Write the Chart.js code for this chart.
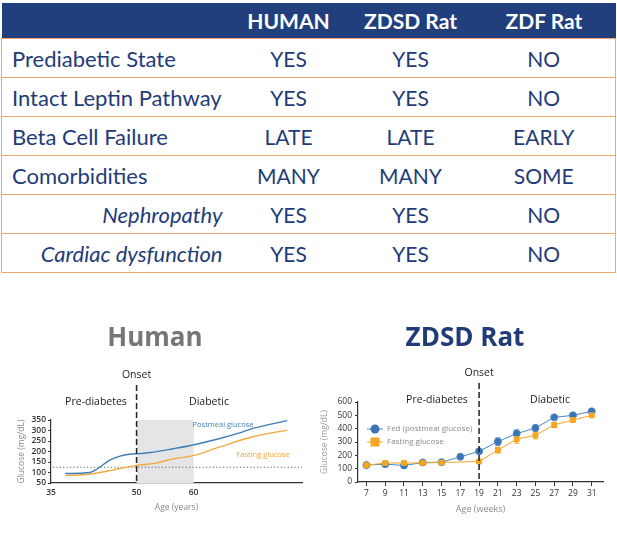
<!DOCTYPE html>
<html>
<head>
<meta charset="utf-8">
<script src="https://cdn.jsdelivr.net/npm/chart.js@4.4.1/dist/chart.umd.min.js"></script>
<style>
  body { margin: 0; width: 617px; height: 541px; background: #fff; position: relative; overflow: hidden; }
  #tbl { position: absolute; left: 1px; top: 3px; width: 614px; border-collapse: collapse; table-layout: fixed;
         font-family: Lato, "Open Sans", sans-serif; color: #1f3c78; }
  #tbl th { background: #213f7c; color: #fff; font-size: 21px; font-weight: bold; height: 35px; padding: 0; border: none; }
  #tbl td { height: 38px; padding: 0; font-size: 21px; text-align: center; border-top: 1.5px solid #f3a66c;
            border-bottom: 1.5px solid #f3a66c; }
  #tbl tr td:first-child { border-left: 1.5px solid #f3a66c; text-align: left; padding-left: 10px; font-size: 22px; }
  #tbl tr td:last-child { border-right: 1.5px solid #f3a66c; }
  #tbl tr td.sub { text-align: right; padding-right: 6px; font-style: italic; }
  .box { position: absolute; top: 320px; height: 221px; }
</style>
</head>
<body>
<table id="tbl">
  <colgroup><col style="width:227px"><col style="width:120px"><col style="width:124px"><col style="width:143px"></colgroup>
  <thead><tr id="head"><th></th></tr></thead>
  <tbody id="body"></tbody>
</table>
<div class="box" style="left:0;width:310px"><canvas id="human"></canvas></div>
<div class="box" style="left:310px;width:307px"><canvas id="rat"></canvas></div>
<script>
// comparison table
const models = ["HUMAN", "ZDSD Rat", "ZDF Rat"];
const traits = ["Prediabetic State", "Intact Leptin Pathway", "Beta Cell Failure", "Comorbidities", "Nephropathy", "Cardiac dysfunction"];
const subTraits = ["Nephropathy", "Cardiac dysfunction"];
const humanCol = ["YES", "YES", "LATE", "MANY", "YES", "YES"];
const zdsdCol = ["YES", "YES", "LATE", "MANY", "YES", "YES"];
const zdfCol = ["NO", "NO", "EARLY", "SOME", "NO", "NO"];

// human glucose curves (age in years)
const humanAges = [37.5, 41.8, 43.2, 45.3, 47.1, 48.8, 50.4, 52.4, 56.2, 59.7, 64.6, 67.6, 70.4, 76.4];
const postmeal = [95, 100, 119, 159, 178, 187, 190, 195, 212, 230, 262, 285, 310, 347];
const fastAges = [37.5, 41.8, 44.8, 47.1, 50.4, 53.6, 56.4, 59.7, 64.6, 70.4, 76.4];
const fastingHuman = [85, 92, 106, 119, 135, 146, 165, 179, 222, 270, 302];
const humanTicksX = [35, 50, 60];
const humanOnset = 50, diabeticWindow = [50, 60], threshold = 125;

// ZDSD rat glucose (age in weeks)
const weeks = [7, 9, 11, 13, 15, 17, 19, 21, 23, 25, 27, 29, 31];
const fed = [127, 134, 124, 146, 149, 189, 230, 303, 363, 405, 485, 500, 530];
const fedErr = [8, 8, 8, 8, 8, 10, 18, 28, 28, 22, 16, 12, 10];
const fastWeeks = [7, 9, 11, 13, 15, 19, 21, 23, 25, 27, 29, 31];
const fasting = [127, 142, 143, 143, 146, 154, 239, 321, 351, 428, 465, 500];
const fastErr = [6, 6, 6, 6, 6, 8, 22, 30, 28, 20, 15, 10];
const ratOnset = 19;

const head = document.getElementById("head");
models.forEach((m) => { const th = document.createElement("th"); th.textContent = m; head.appendChild(th); });
const tbody = document.getElementById("body");
traits.forEach((t, i) => {
  const tr = document.createElement("tr");
  [t, humanCol[i], zdsdCol[i], zdfCol[i]].forEach((v, j) => {
    const td = document.createElement("td");
    td.textContent = v;
    if (j === 0 && subTraits.includes(t)) td.className = "sub";
    tr.appendChild(td);
  });
  tbody.appendChild(tr);
});

const FONT = "'Open Sans', sans-serif";
const pts = (xs, ys) => xs.map((x, i) => ({ x, y: ys[i] }));

function text(ctx, s, x, y, font, color, align) {
  ctx.font = font;
  ctx.fillStyle = color;
  ctx.textAlign = align || "center";
  ctx.textBaseline = "middle";
  ctx.fillText(s, x, y);
}

function dashedOnset(ctx, px, top, bottom) {
  ctx.save();
  ctx.strokeStyle = "#222";
  ctx.lineWidth = 1.5;
  ctx.setLineDash([6, 3]);
  ctx.beginPath();
  ctx.moveTo(px, top);
  ctx.lineTo(px, bottom);
  ctx.stroke();
  ctx.restore();
}

const humanDecor = {
  id: "humanDecor",
  beforeDatasetsDraw(chart) {
    const { ctx, chartArea: a, scales: { x, y } } = chart;
    ctx.save();
    const x0 = x.getPixelForValue(diabeticWindow[0]);
    const x1 = x.getPixelForValue(diabeticWindow[1]);
    ctx.fillStyle = "#e5e5e7";
    ctx.fillRect(x0, a.top, x1 - x0, a.bottom - a.top);
    ctx.strokeStyle = "#666";
    ctx.lineWidth = 1.2;
    ctx.setLineDash([1.2, 2.2]);
    const ty = y.getPixelForValue(threshold);
    ctx.beginPath();
    ctx.moveTo(a.left + 2, ty);
    ctx.lineTo(a.right, ty);
    ctx.stroke();
    ctx.restore();
  },
  afterDatasetsDraw(chart) {
    const { ctx, chartArea: a, scales: { x } } = chart;
    const ox = x.getPixelForValue(humanOnset);
    dashedOnset(ctx, ox, 65, a.bottom);
    text(ctx, "Human", 155, 19, "bold 26px " + FONT, "#767676");
    text(ctx, "Onset", ox, 55, "10.5px " + FONT, "#222");
    text(ctx, "Pre-diabetes", 96, 82, "10.5px " + FONT, "#222");
    text(ctx, "Diabetic", 209, 82, "10.5px " + FONT, "#222");
    text(ctx, "Postmeal glucose", 223, 105, "7.5px " + FONT, "#3d7fb6");
    text(ctx, "Fasting glucose", 263, 135, "7.5px " + FONT, "#f0a43a");
  },
};

new Chart(document.getElementById("human"), {
  type: "line",
  data: {
    datasets: [
      { label: "Postmeal glucose", data: pts(humanAges, postmeal), borderColor: "#3d7fb6", borderWidth: 1.4,
        pointRadius: 0, cubicInterpolationMode: "monotone" },
      { label: "Fasting glucose", data: pts(fastAges, fastingHuman), borderColor: "#f2a93b", borderWidth: 1.4,
        pointRadius: 0, cubicInterpolationMode: "monotone" },
    ],
  },
  options: {
    responsive: true,
    maintainAspectRatio: false,
    animation: false,
    layout: { padding: { top: 100, right: 8, bottom: 28, left: 16 } },
    plugins: { legend: { display: false }, tooltip: { enabled: false } },
    scales: {
      x: {
        type: "linear", min: 35, max: 79,
        afterBuildTicks: (s) => { s.ticks = humanTicksX.map((v) => ({ value: v })); },
        afterFit: (s) => { s.height = 30; },
        grid: { display: false, drawTicks: false },
        border: { color: "#333", width: 1.2 },
        ticks: { color: "#333", font: { family: FONT, size: 8.5, weight: "600" }, padding: 4 },
        title: { display: true, text: "Age (years)", color: "#8a8a8a", font: { family: FONT, size: 8.5 }, padding: 0 },
      },
      y: {
        min: 50, max: 350,
        ticks: { stepSize: 50, autoSkip: false, color: "#333", font: { family: FONT, size: 8.5, weight: "600" }, padding: 2 },
        afterFit: (s) => { s.width = 35; },
        grid: { drawOnChartArea: false, tickLength: 3, color: "#333" },
        border: { color: "#333", width: 1.2 },
        title: { display: true, text: "Glucose (mg/dL)", color: "#8a8a8a", font: { family: FONT, size: 8.5 }, padding: 0 },
      },
    },
  },
  plugins: [humanDecor],
});

const ratDecor = {
  id: "ratDecor",
  beforeDatasetsDraw(chart) {
    const { ctx, scales: { x, y } } = chart;
    ctx.save();
    ctx.lineWidth = 1;
    chart.data.datasets.forEach((ds) => {
      ctx.strokeStyle = ds.borderColor;
      ds.data.forEach((p, j) => {
        const e = ds.errors[j];
        const px = x.getPixelForValue(p.x);
        const hi = y.getPixelForValue(p.y + e), lo = y.getPixelForValue(p.y - e);
        ctx.beginPath();
        ctx.moveTo(px, hi); ctx.lineTo(px, lo);
        ctx.moveTo(px - 2.5, hi); ctx.lineTo(px + 2.5, hi);
        ctx.moveTo(px - 2.5, lo); ctx.lineTo(px + 2.5, lo);
        ctx.stroke();
      });
    });
    ctx.restore();
  },
  afterDatasetsDraw(chart) {
    const { ctx, chartArea: a, scales: { x } } = chart;
    const ox = x.getPixelForValue(ratOnset);
    dashedOnset(ctx, ox, 63, a.bottom);
    text(ctx, "ZDSD Rat", 155, 19, "bold 26px " + FONT, "#1f3b78");
    text(ctx, "Onset", ox, 53, "10.5px " + FONT, "#222");
    text(ctx, "Pre-diabetes", 127, 80, "10.5px " + FONT, "#222");
    text(ctx, "Diabetic", 240, 80, "10.5px " + FONT, "#222");
    // legend
    ctx.save();
    ctx.lineWidth = 1;
    ctx.strokeStyle = "#4a86c5";
    ctx.beginPath(); ctx.moveTo(57, 109); ctx.lineTo(73, 109); ctx.stroke();
    ctx.fillStyle = "#3a74b5";
    ctx.beginPath(); ctx.arc(65, 109, 4.5, 0, Math.PI * 2); ctx.fill();
    ctx.strokeStyle = "#f5a623";
    ctx.beginPath(); ctx.moveTo(57, 122); ctx.lineTo(73, 122); ctx.stroke();
    ctx.fillStyle = "#f5a623";
    ctx.fillRect(60.5, 117.5, 9, 9);
    ctx.restore();
    text(ctx, "Fed (postmeal glucose)", 77, 109, "8px " + FONT, "#8a8a8a", "left");
    text(ctx, "Fasting glucose", 77, 122, "8px " + FONT, "#8a8a8a", "left");
  },
};

new Chart(document.getElementById("rat"), {
  type: "line",
  data: {
    datasets: [
      { label: "Fasting glucose", data: pts(fastWeeks, fasting), errors: fastErr, borderColor: "#f5a623",
        backgroundColor: "#f5a623", borderWidth: 1, pointStyle: "rect", pointRadius: 3.5, tension: 0 },
      { label: "Fed (postmeal glucose)", data: pts(weeks, fed), errors: fedErr, borderColor: "#4a86c5",
        backgroundColor: "#3a74b5", borderWidth: 1, pointStyle: "circle", pointRadius: 3.5, tension: 0 },
    ],
  },
  options: {
    responsive: true,
    maintainAspectRatio: false,
    animation: false,
    layout: { padding: { top: 82, right: 14, bottom: 26, left: 9 } },
    plugins: { legend: { display: false }, tooltip: { enabled: false } },
    scales: {
      x: {
        type: "linear", min: 6.1, max: 32.2,
        afterBuildTicks: (s) => { s.ticks = weeks.map((v) => ({ value: v })); },
        afterFit: (s) => { s.height = 33; },
        grid: { drawOnChartArea: false, tickLength: 4, color: "#333" },
        border: { color: "#333", width: 1.2 },
        ticks: { color: "#333", font: { family: FONT, size: 8.5 }, padding: 2 },
        title: { display: true, text: "Age (weeks)", color: "#8a8a8a", font: { family: FONT, size: 9 }, padding: 0 },
      },
      y: {
        min: 0, max: 600,
        ticks: { stepSize: 100, autoSkip: false, color: "#333", font: { family: FONT, size: 8.5 }, padding: 3 },
        afterFit: (s) => { s.width = 39; },
        grid: { drawOnChartArea: false, tickLength: 3, color: "#333" },
        border: { color: "#333", width: 1.2 },
        title: { display: true, text: "Glucose (mg/dL)", color: "#9a9a9a", font: { family: FONT, size: 8.5 }, padding: 0 },
      },
    },
  },
  plugins: [ratDecor],
});
</script>
</body>
</html>
